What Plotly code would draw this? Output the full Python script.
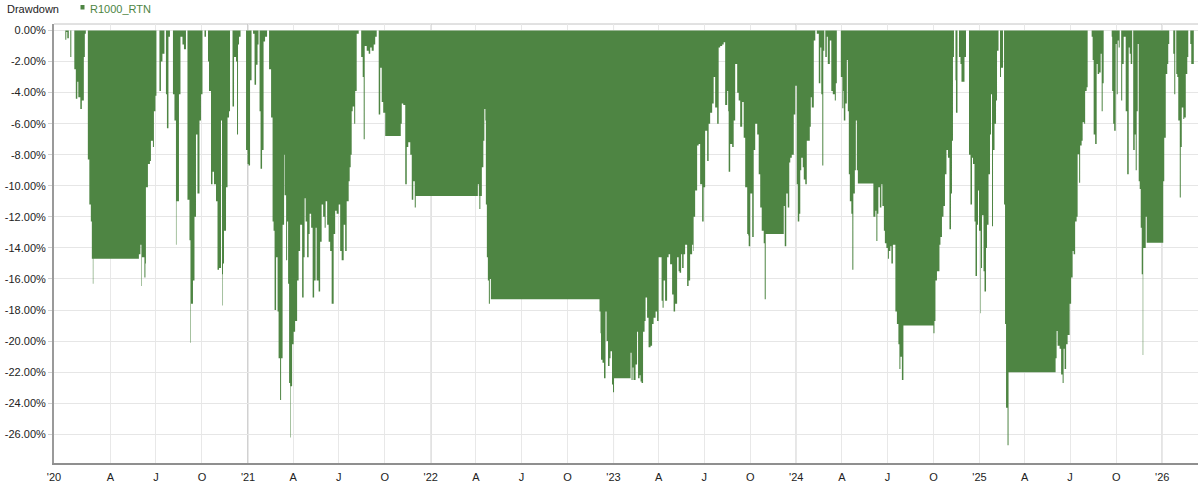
import pandas as pd
import plotly.graph_objects as go

# ---------------- data (drawdown, %) ----------------
dates_2020 = ["2020-01-02", "2020-01-04", "2020-01-06", "2020-01-09", "2020-01-12", "2020-01-14",
              "2020-01-20", "2020-01-23", "2020-01-26", "2020-01-28", "2020-02-01", "2020-02-04",
              "2020-02-08", "2020-02-10", "2020-02-12", "2020-02-16", "2020-02-19", "2020-02-22",
              "2020-02-24", "2020-02-26", "2020-02-27", "2020-05-28", "2020-05-31", "2020-06-02",
              "2020-06-03", "2020-06-08", "2020-06-10", "2020-06-11", "2020-06-15", "2020-06-19",
              "2020-06-21", "2020-06-25", "2020-06-27", "2020-06-30", "2020-07-02", "2020-07-08",
              "2020-07-11", "2020-07-14", "2020-07-18", "2020-07-21", "2020-07-23", "2020-07-26",
              "2020-07-29", "2020-08-04", "2020-08-07", "2020-08-10", "2020-08-11", "2020-08-16",
              "2020-08-19", "2020-08-23", "2020-08-26", "2020-08-30", "2020-09-02", "2020-09-06",
              "2020-09-08", "2020-09-09", "2020-09-13", "2020-09-16", "2020-09-19", "2020-09-22",
              "2020-09-26", "2020-09-29", "2020-10-02", "2020-10-06", "2020-10-09", "2020-10-13",
              "2020-10-15", "2020-10-19", "2020-10-22", "2020-10-25", "2020-10-29", "2020-11-01",
              "2020-11-04", "2020-11-08", "2020-11-10", "2020-11-11", "2020-11-12", "2020-11-14",
              "2020-11-18", "2020-11-21", "2020-11-24", "2020-11-26", "2020-12-01", "2020-12-04",
              "2020-12-08", "2020-12-10", "2020-12-12", "2020-12-14", "2020-12-17", "2020-12-28",
              "2020-12-31"]
values_2020 = [-0.6, -0.1, -0.5, 0.0, -1.7, 0.0,
               -2.5, -4.4, -3.3, -4.3, -5.05, -4.5,
               -1.7, -0.2, 0.0, -8.3, -11.2, -12.3,
               -14.7, -16.3, -14.7, -14.4, -13.8, -16.45,
               -14.6, -15.9, -15.0, -10.1, -8.6, -8.4,
               -7.1, -7.5, -5.2, -4.2, 0.0, -3.9,
               -2.0, -1.5, 0.0, -4.1, -6.3, -0.4,
               0.0, -4.1, -5.8, -13.8, -11.0, -4.1,
               -0.4, -0.9, -1.2, 0.0, -10.9, -13.5,
               -20.1, -17.6, -16.1, -12.0, -6.7, -10.5,
               -5.8, -4.1, 0.0, -0.4, 0.0, -2.0,
               -3.9, -9.9, -9.1, -9.9, -11.0, -15.4,
               -15.3, -5.8, -15.7, -17.7, -15.0, -12.9,
               -10.1, -5.6, -5.2, 0.0, -4.9, -1.7,
               -2.0, -6.7, -0.9, -0.4, 0.0, -7.7,
               -8.6]

dates_2021 = ["2021-01-02", "2021-01-05", "2021-01-08", "2021-01-11", "2021-01-14", "2021-01-17",
              "2021-01-20", "2021-01-22", "2021-01-24", "2021-01-26", "2021-01-29", "2021-02-01",
              "2021-02-04", "2021-02-08", "2021-02-12", "2021-02-16", "2021-02-19", "2021-02-21",
              "2021-02-23", "2021-02-26", "2021-03-01", "2021-03-03", "2021-03-06", "2021-03-08",
              "2021-03-11", "2021-03-14", "2021-03-15", "2021-03-18", "2021-03-20", "2021-03-22",
              "2021-03-24", "2021-03-26", "2021-03-27", "2021-03-30", "2021-04-02", "2021-04-05",
              "2021-04-09", "2021-04-12", "2021-04-15", "2021-04-19", "2021-04-22", "2021-04-24",
              "2021-04-26", "2021-04-29", "2021-05-02", "2021-05-04", "2021-05-07", "2021-05-10",
              "2021-05-13", "2021-05-16", "2021-05-18", "2021-05-22", "2021-05-25", "2021-05-28",
              "2021-05-31", "2021-06-03", "2021-06-05", "2021-06-08", "2021-06-11", "2021-06-14",
              "2021-06-17", "2021-06-21", "2021-06-24", "2021-06-27", "2021-07-01", "2021-07-04",
              "2021-07-07", "2021-07-11", "2021-07-14", "2021-07-17", "2021-07-21", "2021-07-23",
              "2021-07-25", "2021-07-27", "2021-07-29", "2021-08-01", "2021-08-03", "2021-08-06",
              "2021-08-10", "2021-08-15", "2021-08-18", "2021-08-20", "2021-08-22", "2021-08-26",
              "2021-08-30", "2021-09-02", "2021-09-05", "2021-09-09", "2021-09-12", "2021-09-15",
              "2021-09-19", "2021-09-22", "2021-09-25", "2021-09-28", "2021-10-02", "2021-11-02",
              "2021-11-04", "2021-11-07", "2021-11-11", "2021-11-14", "2021-11-17", "2021-11-21",
              "2021-11-24", "2021-11-27", "2021-11-30", "2021-12-02"]
values_2021 = [-8.7, -3.2, 0.0, -0.2, -3.5, -2.2,
               -0.9, 0.0, -5.2, -8.9, -7.7, -0.7,
               -0.4, 0.0, -2.5, -5.6, -12.3, -12.9,
               -18.0, -14.6, -18.1, -21.1, -23.8, -21.1,
               -12.5, -8.0, -10.6, -14.8, -12.3, -16.3,
               -22.7, -26.2, -22.9, -20.2, -19.4, -18.7,
               -16.1, -14.2, -12.5, -17.2, -14.6, -10.8,
               -12.3, -14.6, -13.1, -11.8, -12.7, -17.2,
               -16.1, -12.7, -16.1, -16.8, -13.6, -11.2,
               -12.0, -12.7, -11.0, -12.5, -13.6, -14.2,
               -17.6, -13.1, -11.6, -11.8, -11.2, -14.2,
               -14.8, -12.5, -14.2, -11.0, -9.7, -8.8,
               -8.0, -5.2, -4.9, -6.0, -3.9, -0.2,
               0.0, -1.7, -3.0, -7.0, -1.0, -1.3,
               -1.5, -1.1, -1.3, -0.9, -0.4, 0.0,
               -5.4, -2.4, -4.6, -5.3, -6.8, -6.0,
               -4.7, -4.8, -9.9, -7.5, -7.2, -8.0,
               -10.9, -9.7, -11.4, -10.65]

dates_2022 = ["2022-04-05", "2022-04-07", "2022-04-08", "2022-04-10", "2022-04-13", "2022-04-16",
              "2022-04-18", "2022-04-20", "2022-04-21", "2022-04-23", "2022-04-25", "2022-04-27",
              "2022-04-29", "2022-05-01", "2022-12-04", "2022-12-06", "2022-12-07", "2022-12-10",
              "2022-12-13", "2022-12-16", "2022-12-18", "2022-12-21", "2022-12-24", "2022-12-26",
              "2022-12-29", "2022-12-31"]
values_2022 = [-9.9, -10.65, -11.5, -10.65, -8.8, -7.1,
               -5.05, -5.8, -11.2, -14.6, -16.1, -17.6,
               -16.0, -17.3, -18.1, -19.5, -21.2, -21.4,
               -22.4, -18.1, -20.0, -21.6, -21.1, -20.65,
               -22.8, -23.3]

dates_2023 = ["2023-01-02", "2023-02-04", "2023-02-06", "2023-02-08", "2023-02-10", "2023-02-14",
              "2023-02-17", "2023-02-19", "2023-02-22", "2023-02-24", "2023-02-26", "2023-03-01",
              "2023-03-04", "2023-03-06", "2023-03-09", "2023-03-12", "2023-03-16", "2023-03-19",
              "2023-03-22", "2023-03-26", "2023-03-29", "2023-04-01", "2023-04-05", "2023-04-07",
              "2023-04-09", "2023-04-11", "2023-04-14", "2023-04-18", "2023-04-21", "2023-04-24",
              "2023-04-28", "2023-05-01", "2023-05-04", "2023-05-08", "2023-05-11", "2023-05-13",
              "2023-05-16", "2023-05-18", "2023-05-21", "2023-05-24", "2023-05-28", "2023-05-31",
              "2023-06-03", "2023-06-07", "2023-06-09", "2023-06-10", "2023-06-13", "2023-06-17",
              "2023-06-20", "2023-06-23", "2023-06-27", "2023-06-30", "2023-07-03", "2023-07-07",
              "2023-07-10", "2023-07-13", "2023-07-17", "2023-07-20", "2023-07-23", "2023-07-27",
              "2023-07-30", "2023-08-02", "2023-08-06", "2023-08-09", "2023-08-12", "2023-08-16",
              "2023-08-18", "2023-08-19", "2023-08-22", "2023-08-26", "2023-08-29", "2023-09-01",
              "2023-09-05", "2023-09-08", "2023-09-11", "2023-09-15", "2023-09-18", "2023-09-21",
              "2023-09-25", "2023-09-27", "2023-09-28", "2023-10-01", "2023-10-05", "2023-10-08",
              "2023-10-11", "2023-10-15", "2023-10-18", "2023-10-21", "2023-10-24", "2023-10-28",
              "2023-10-30", "2023-11-01", "2023-12-07", "2023-12-09", "2023-12-12", "2023-12-15",
              "2023-12-18", "2023-12-20", "2023-12-23", "2023-12-27", "2023-12-30"]
values_2023 = [-22.4, -20.75, -22.5, -21.7, -22.5, -21.5,
               -19.4, -22.4, -22.2, -22.6, -22.7, -19.4,
               -18.7, -17.2, -18.5, -20.4, -20.3, -18.9,
               -18.5, -18.1, -18.7, -14.6, -14.6, -17.4,
               -17.85, -16.1, -17.4, -14.6, -14.4, -15.05,
               -17.0, -18.1, -17.6, -14.6, -15.5, -15.6,
               -14.4, -15.3, -14.4, -13.8, -16.45, -16.1,
               -14.4, -13.8, -14.2, -12.0, -10.3, -7.4,
               -7.3, -9.9, -12.3, -10.1, -6.45, -8.4,
               -6.0, -5.3, -4.7, -3.0, -4.95, -6.0,
               -1.1, -1.0, -0.9, -0.75, -4.8, -3.9,
               -5.2, -9.1, -7.3, -7.5, -5.8, -2.15,
               -4.0, -4.5, -6.2, -4.6, -6.9, -10.1,
               -13.1, -13.2, -13.9, -10.5, -13.3, -7.7,
               -6.0, -6.7, -9.25, -11.4, -12.9, -13.7,
               -17.3, -13.1, -11.3, -13.9, -10.5, -11.4,
               -8.5, -8.2, -8.0, -5.4, -3.55]

dates_2024 = ["2024-01-02", "2024-01-04", "2024-01-07", "2024-01-09", "2024-01-11", "2024-01-14",
              "2024-01-16", "2024-01-19", "2024-01-22", "2024-01-26", "2024-01-28", "2024-01-30",
              "2024-02-01", "2024-02-05", "2024-02-08", "2024-02-11", "2024-02-15", "2024-02-18",
              "2024-02-20", "2024-02-22", "2024-02-24", "2024-02-26", "2024-02-28", "2024-03-02",
              "2024-03-04", "2024-03-08", "2024-03-11", "2024-03-14", "2024-03-18", "2024-03-20",
              "2024-03-22", "2024-03-30", "2024-04-02", "2024-04-04", "2024-04-05", "2024-04-08",
              "2024-04-11", "2024-04-13", "2024-04-15", "2024-04-17", "2024-04-20", "2024-04-22",
              "2024-04-24", "2024-04-27", "2024-04-29", "2024-05-01", "2024-05-03", "2024-06-03",
              "2024-06-07", "2024-06-09", "2024-06-11", "2024-06-13", "2024-06-16", "2024-06-19",
              "2024-06-21", "2024-06-24", "2024-06-26", "2024-06-29", "2024-07-02", "2024-07-04",
              "2024-07-07", "2024-07-09", "2024-07-12", "2024-07-15", "2024-07-17", "2024-07-20",
              "2024-07-23", "2024-07-25", "2024-07-27", "2024-07-30", "2024-08-02", "2024-10-01",
              "2024-10-03", "2024-10-05", "2024-10-08", "2024-10-13", "2024-10-15", "2024-10-18",
              "2024-10-21", "2024-10-24", "2024-10-27", "2024-10-30", "2024-11-02", "2024-11-05",
              "2024-11-07", "2024-11-09", "2024-11-11", "2024-11-14", "2024-11-15", "2024-11-18",
              "2024-11-21", "2024-11-24", "2024-11-26", "2024-12-02", "2024-12-05", "2024-12-11",
              "2024-12-14", "2024-12-17", "2024-12-19", "2024-12-22", "2024-12-24", "2024-12-27",
              "2024-12-29", "2024-12-31"]
values_2024 = [-9.9, -12.3, -11.8, -9.0, -8.2, -8.8,
               -9.6, -9.9, -7.1, -7.1, -6.2, -4.3,
               -4.95, -0.65, 0.0, -0.2, -3.4, -1.1,
               -4.1, -8.7, -1.3, 0.0, -1.7, -0.4,
               -2.15, -0.65, -3.9, -4.1, -4.5, -3.4,
               0.0, -3.0, -5.0, -3.9, -5.8, -4.7,
               -1.9, -5.2, -9.25, -11.0, -11.8, -15.4,
               -10.5, -9.0, -5.8, -9.0, -9.85, -12.0,
               -11.6, -13.55, -11.8, -10.1, -11.4, -9.9,
               -11.3, -12.9, -13.7, -14.0, -14.7, -14.2,
               -13.9, -15.0, -13.8, -13.8, -18.1, -18.9,
               -20.2, -21.8, -21.0, -22.5, -19.0, -19.5,
               -18.7, -16.1, -15.5, -13.8, -13.3, -12.0,
               -11.3, -9.25, -7.7, -8.2, -12.8, -10.5,
               -7.1, -1.7, 0.0, -3.2, -5.3, 0.0,
               -1.7, -2.15, -3.3, -1.7, 0.0, -8.0,
               -11.2, -8.2, -8.6, -12.3, -15.8, -12.5,
               -10.3, -12.9]

dates_2025 = ["2025-01-03", "2025-01-04", "2025-01-06", "2025-01-09", "2025-01-11", "2025-01-14",
              "2025-01-16", "2025-01-19", "2025-01-22", "2025-01-24", "2025-01-26", "2025-01-28",
              "2025-01-31", "2025-02-03", "2025-02-05", "2025-02-08", "2025-02-11", "2025-02-13",
              "2025-02-17", "2025-02-19", "2025-02-21", "2025-02-23", "2025-02-26", "2025-02-28",
              "2025-06-02", "2025-06-04", "2025-06-06", "2025-06-10", "2025-06-13", "2025-06-16",
              "2025-06-18", "2025-06-20", "2025-06-23", "2025-06-26", "2025-06-30", "2025-07-03",
              "2025-07-06", "2025-07-08", "2025-07-11", "2025-07-14", "2025-07-16", "2025-07-19",
              "2025-07-21", "2025-07-24", "2025-07-26", "2025-07-29", "2025-07-31", "2025-08-03",
              "2025-08-05", "2025-08-13", "2025-08-15", "2025-08-17", "2025-08-20", "2025-08-23",
              "2025-08-25", "2025-08-28", "2025-08-31", "2025-09-02", "2025-09-04", "2025-09-06",
              "2025-09-22", "2025-09-23", "2025-09-25", "2025-09-27", "2025-09-30", "2025-10-02",
              "2025-10-04", "2025-10-06", "2025-10-08", "2025-10-11", "2025-10-13", "2025-10-16",
              "2025-10-20", "2025-10-23", "2025-10-26", "2025-10-28", "2025-10-30", "2025-11-02",
              "2025-11-04", "2025-11-07", "2025-11-09", "2025-11-11", "2025-11-13", "2025-11-15",
              "2025-11-17", "2025-11-19", "2025-11-21", "2025-11-23", "2025-11-24", "2025-11-29",
              "2025-12-01"]
values_2025 = [-18.2, -15.3, -11.9, -15.5, -16.8, -14.0,
               -12.5, -9.25, -6.7, -4.1, -12.6, -7.7,
               -6.0, -4.5, -1.3, 0.0, -3.0, -2.4,
               0.0, -11.2, -18.9, -24.3, -26.7, -22.0,
               -21.1, -19.35, -20.3, -20.5, -22.15, -22.7,
               -20.5, -21.8, -20.2, -19.6, -17.6, -15.9,
               -14.2, -14.4, -12.3, -12.0, -7.96, -9.8,
               -7.4, -7.1, -5.9, -6.0, -3.9, -3.66,
               0.0, -0.4, -1.9, -6.7, -7.3, -2.15,
               -2.8, -2.7, -1.5, -5.2, -3.4, 0.0,
               -0.4, -3.9, -6.0, -6.45, -0.86, -4.1,
               -0.65, -1.1, 0.0, -4.5, -2.15, -0.4,
               -5.2, -9.25, -1.1, -1.5, -2.15, 0.0,
               -7.7, -6.7, -9.0, -5.2, -0.86, -9.7,
               -10.2, -12.7, -15.7, -20.9, -14.0, -12.0,
               -13.66]

dates_2026 = ["2026-01-03", "2026-01-05", "2026-01-08", "2026-01-11", "2026-01-13", "2026-01-15",
              "2026-01-23", "2026-01-25", "2026-01-27", "2026-01-29", "2026-01-31", "2026-02-02",
              "2026-02-05", "2026-02-07", "2026-02-09", "2026-02-12", "2026-02-14", "2026-02-17",
              "2026-02-20", "2026-02-22", "2026-02-26", "2026-02-28", "2026-03-02", "2026-03-05"]
values_2026 = [-9.7, -6.9, -2.8, -2.15, -0.86, 0.0,
               -1.5, -4.1, 0.0, -2.8, -3.0, -5.8,
               -10.75, -7.5, -4.95, -5.7, -5.6, -2.8,
               -1.7, 0.0, -0.86, -2.15, -2.15, 0.0]
last_date = "2026-03-10"

series_name = "R1000_RTN"
chart_title = "Drawdown"

y_tick_vals = [0, -2, -4, -6, -8, -10, -12, -14, -16, -18, -20, -22, -24, -26]
y_tick_text = ["0.00%", "-2.00%", "-4.00%", "-6.00%", "-8.00%", "-10.00%", "-12.00%",
               "-14.00%", "-16.00%", "-18.00%", "-20.00%", "-22.00%", "-24.00%", "-26.00%"]

x_range = ["2019-12-10 10:00", "2026-03-13 10:00"]
x_tick_vals = ["2019-12-10 10:00", "2020-04-01", "2020-07-01", "2020-10-01",
               "2021-01-01", "2021-04-01", "2021-07-01", "2021-10-01",
               "2022-01-01", "2022-04-01", "2022-07-01", "2022-10-01",
               "2023-01-01", "2023-04-01", "2023-07-01", "2023-10-01",
               "2024-01-01", "2024-04-01", "2024-07-01", "2024-10-01",
               "2025-01-01", "2025-04-01", "2025-07-01", "2025-10-01",
               "2026-01-01"]
x_tick_text = ["'20", "A", "J", "O", "'21", "A", "J", "O", "'22", "A", "J", "O",
               "'23", "A", "J", "O", "'24", "A", "J", "O", "'25", "A", "J", "O", "'26"]
year_lines = ["2021-01-01", "2022-01-01", "2023-01-01", "2024-01-01", "2025-01-01", "2026-01-01"]

# ---------------- styling ----------------
GREEN = "#4E8543"
FONT = "Liberation Sans, Arial, sans-serif"

all_dates = dates_2020 + dates_2021 + dates_2022 + dates_2023 + dates_2024 + dates_2025 + dates_2026
all_values = values_2020 + values_2021 + values_2022 + values_2023 + values_2024 + values_2025 + values_2026
xs = pd.to_datetime(all_dates + [last_date])
ys = all_values + [all_values[-1]]

fig = go.Figure()
fig.add_trace(go.Scatter(
    x=xs, y=ys, mode="lines", line=dict(shape="hv", width=0, color=GREEN),
    fill="tozeroy", fillcolor=GREEN, name=series_name, showlegend=False,
    hoverinfo="x+y"))

shapes = []
for d in year_lines:
    shapes.append(dict(type="line", xref="x", yref="paper", x0=d, x1=d, y0=0, y1=1,
                       line=dict(color="#999999", width=1), layer="between"))
# top frame line
shapes.append(dict(type="line", xref="paper", yref="paper", x0=0, x1=1, y0=1, y1=1,
                   line=dict(color="#c4c4c4", width=1), layer="between"))
# legend marker square
W, H, L, T = 1200, 491, 54, 24
PW, PH = W - L - 2, H - T - 28
def px(xp):
    return (xp - L) / PW
def py(yp):
    return (H - 28 - yp) / PH
shapes.append(dict(type="rect", xref="paper", yref="paper", x0=px(80.5), x1=px(84.5),
                   y0=py(9.5), y1=py(5.0), fillcolor=GREEN, line=dict(width=0)))

annotations = [
    dict(text=chart_title, xref="paper", yref="paper", x=px(5), y=py(9), xanchor="left",
         yanchor="middle", showarrow=False, font=dict(family=FONT, size=11, color="#222222")),
    dict(text=series_name, xref="paper", yref="paper", x=px(88), y=py(9), xanchor="left",
         yanchor="middle", showarrow=False, font=dict(family=FONT, size=11, color=GREEN)),
]

fig.update_layout(
    width=W, height=H, autosize=False,
    margin=dict(l=L, r=2, t=T, b=28, pad=0),
    paper_bgcolor="white", plot_bgcolor="white",
    font=dict(family=FONT, size=11, color="#333333"),
    shapes=shapes, annotations=annotations, showlegend=False,
    xaxis=dict(type="date", range=x_range, tickmode="array", tickvals=x_tick_vals,
               ticktext=x_tick_text, showgrid=True, gridcolor="#e8e8e8", gridwidth=1,
               showline=True, linecolor="#8f8f8f", linewidth=2, ticks="outside",
               ticklen=3, tickcolor="rgba(0,0,0,0)", zeroline=False,
               tickfont=dict(family=FONT, size=11, color="#222222")),
    yaxis=dict(range=[-27.85, 0.42], tickmode="array", tickvals=y_tick_vals,
               ticktext=y_tick_text, showgrid=True, gridcolor="#e6e6e6", gridwidth=1,
               showline=True, linecolor="#9a9a9a", linewidth=2, ticks="outside",
               ticklen=4, tickcolor="#d0d0d0", zeroline=False,
               tickfont=dict(family=FONT, size=11, color="#222222")),
)

fig.write_html("out.html", config={"displayModeBar": False},
               post_script="document.body.style.margin='0px';")
